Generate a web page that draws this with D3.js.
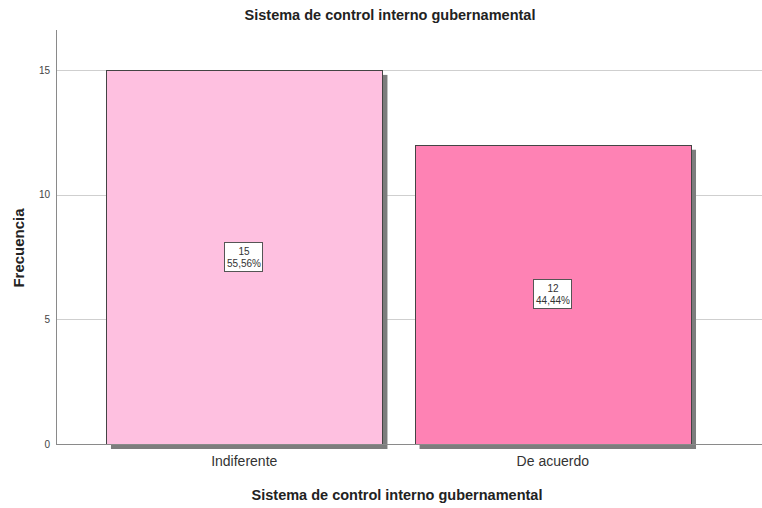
<!DOCTYPE html>
<html lang="es">
  <head>
    <meta charset="utf-8" />
    <title>Sistema de control interno gubernamental</title>
    <script src="https://cdn.jsdelivr.net/npm/d3@7"></script>
    <style>
      body { margin: 0; background: #fff; }
      text { font-family: "Liberation Sans", Arial, sans-serif; }
    </style>
  </head>
  <body>
    <script>
      var categories = ["Indiferente", "De acuerdo"]
      var counts = [15, 12]
      var percents = ["55,56%", "44,44%"]
      var barColors = ["#fec0e0", "#fe82b4"]
      var yTicks = [0, 5, 10, 15]

      var width = 762, height = 508
      var plotLeft = 56, plotBottom = 444, plotTop = 30

      var svg = d3.select("body").append("svg")
        .attr("width", width)
        .attr("height", height)

      var x = d3.scaleBand()
        .domain(categories)
        .range([plotLeft, 741])
        .paddingInner(0.104)
        .paddingOuter(0.162)

      var y = d3.scaleLinear()
        .domain([0, 16.6])
        .range([plotBottom, plotTop])

      // gridlines
      svg.append("g")
        .selectAll("line")
        .data(yTicks.filter(function(d) { return d > 0 }))
        .enter().append("line")
          .attr("x1", plotLeft).attr("x2", width)
          .attr("y1", function(d) { return Math.round(y(d)) + 0.5 })
          .attr("y2", function(d) { return Math.round(y(d)) + 0.5 })
          .attr("stroke", "#cfcfcf")
          .attr("stroke-width", 1)

      var data = categories.map(function(c, i) {
        return { cat: c, n: counts[i], pct: percents[i], color: barColors[i] }
      })

      // shadows
      svg.append("g")
        .selectAll("rect")
        .data(data)
        .enter().append("rect")
          .attr("x", function(d) { return x(d.cat) + 5 })
          .attr("y", function(d) { return y(d.n) + 5 })
          .attr("width", x.bandwidth())
          .attr("height", function(d) { return plotBottom - y(d.n) })
          .attr("fill", "#7d7d7d")

      // bars
      svg.append("g")
        .selectAll("rect")
        .data(data)
        .enter().append("rect")
          .attr("x", function(d) { return Math.round(x(d.cat)) + 0.5 })
          .attr("y", function(d) { return Math.round(y(d.n)) + 0.5 })
          .attr("width", Math.round(x.bandwidth()))
          .attr("height", function(d) { return plotBottom - Math.round(y(d.n)) })
          .attr("fill", function(d) { return d.color })
          .attr("stroke", "#444")
          .attr("stroke-width", 1)

      // baseline + y axis line
      svg.append("line")
        .attr("x1", plotLeft).attr("x2", width)
        .attr("y1", plotBottom + 0.5).attr("y2", plotBottom + 0.5)
        .attr("stroke", "#8a8a8a")
      svg.append("line")
        .attr("x1", plotLeft + 0.5).attr("x2", plotLeft + 0.5)
        .attr("y1", plotTop).attr("y2", plotBottom)
        .attr("stroke", "#8a8a8a")

      // y ticks
      var yAxis = svg.append("g")
        .attr("transform", "translate(" + plotLeft + ",0)")
        .call(d3.axisLeft(y).tickValues(yTicks).tickSize(0).tickPadding(6))
      yAxis.select(".domain").remove()
      yAxis.selectAll("text")
        .style("font-family", "Liberation Sans, Arial, sans-serif")
        .style("font-size", "10px")
        .attr("fill", "#444")

      // x tick labels
      var xAxis = svg.append("g")
        .attr("transform", "translate(0," + plotBottom + ")")
        .call(d3.axisBottom(x).tickSize(0).tickPadding(12))
      xAxis.select(".domain").remove()
      xAxis.selectAll("text")
        .style("font-family", "Liberation Sans, Arial, sans-serif")
        .style("font-size", "14px")
        .attr("fill", "#333")

      // value boxes
      var boxes = svg.append("g")
        .selectAll("g")
        .data(data)
        .enter().append("g")
          .attr("transform", function(d) {
            return "translate(" + Math.round(x(d.cat) + x.bandwidth() / 2) + "," + Math.round((y(d.n) + plotBottom) / 2) + ")"
          })
      boxes.append("rect")
        .attr("x", -19.5).attr("y", -14.5)
        .attr("width", 38).attr("height", 29)
        .attr("fill", "#fff")
        .attr("stroke", "#555")
      boxes.append("text")
        .attr("text-anchor", "middle")
        .attr("y", -2)
        .style("font-size", "10px")
        .attr("fill", "#333")
        .text(function(d) { return d.n })
      boxes.append("text")
        .attr("text-anchor", "middle")
        .attr("y", 10)
        .style("font-size", "10px")
        .attr("fill", "#333")
        .text(function(d) { return d.pct })

      // titles
      svg.append("text")
        .attr("x", 390).attr("y", 20)
        .attr("text-anchor", "middle")
        .style("font-size", "14.5px")
        .style("font-weight", "bold")
        .attr("fill", "#222")
        .text("Sistema de control interno gubernamental")

      svg.append("text")
        .attr("x", 397).attr("y", 500)
        .attr("text-anchor", "middle")
        .style("font-size", "14.5px")
        .style("font-weight", "bold")
        .attr("fill", "#222")
        .text("Sistema de control interno gubernamental")

      svg.append("text")
        .attr("transform", "translate(24,248) rotate(-90)")
        .attr("text-anchor", "middle")
        .style("font-size", "15px")
        .style("font-weight", "bold")
        .attr("fill", "#222")
        .text("Frecuencia")
    </script>
  </body>
</html>
